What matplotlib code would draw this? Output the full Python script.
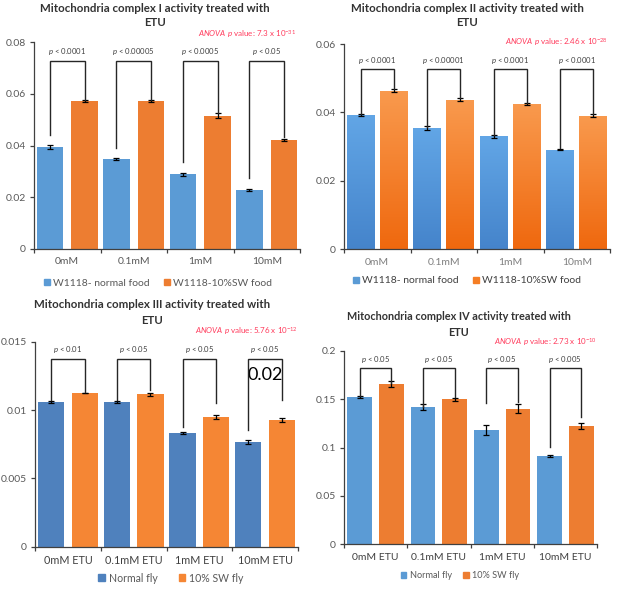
import matplotlib
matplotlib.use("Agg")
import matplotlib.pyplot as plt
import numpy as np
from matplotlib.colors import LinearSegmentedColormap
from matplotlib.patches import Patch

plt.rcParams['font.family'] = ['Lato', 'DejaVu Sans']
plt.rcParams['mathtext.fontset'] = 'custom'
plt.rcParams['mathtext.rm'] = 'Lato'
plt.rcParams['mathtext.it'] = 'Lato:italic'
plt.rcParams['mathtext.bf'] = 'Lato:bold'

# ---------------- data ----------------
cats_a = ["0mM", "0.1mM", "1mM", "10mM"]
cats_b = ["0mM ETU", "0.1mM ETU", "1mM ETU", "10mM ETU"]

c1_blue = [0.0395, 0.0348, 0.0289, 0.0227]
c1_blue_err = [0.0007, 0.0003, 0.0006, 0.0004]
c1_orange = [0.0573, 0.0571, 0.0515, 0.0420]
c1_orange_err = [0.0003, 0.0004, 0.0010, 0.0004]
c1_p = ["0.0001", "0.00005", "0.0005", "0.05"]
c1_anova = ("7.3", "-31")

c2_blue = [0.0392, 0.0354, 0.0330, 0.0291]
c2_blue_err = [0.0002, 0.0006, 0.0004, 0.0001]
c2_orange = [0.0464, 0.0437, 0.0424, 0.0391]
c2_orange_err = [0.0004, 0.0005, 0.0003, 0.0003]
c2_p = ["0.0001", "0.00001", "0.0001", "0.0001"]
c2_anova = ("2.46", "-28")

c3_blue = [0.01060, 0.01058, 0.00832, 0.00767]
c3_blue_err = [0.00005, 0.00008, 0.00008, 0.00015]
c3_orange = [0.01124, 0.01114, 0.00946, 0.00925]
c3_orange_err = [0.00003, 0.00010, 0.00015, 0.00015]
c3_p = ["0.01", "0.05", "0.05", "0.05"]
c3_anova = ("5.76", "-12")

c4_blue = [0.1525, 0.1418, 0.1183, 0.0910]
c4_blue_err = [0.0010, 0.0030, 0.0050, 0.0010]
c4_orange = [0.1660, 0.1502, 0.1404, 0.1225]
c4_orange_err = [0.0030, 0.0015, 0.0050, 0.0030]
c4_p = ["0.05", "0.05", "0.05", "0.005"]
c4_anova = ("2.73", "-10")

# bracket geometry (data units): top, left-leg end, right-leg end
c1_br_top = 0.0728
c1_br_left = [0.0440, 0.0390, 0.0338, 0.0275]
c1_br_right = [0.0577, 0.0576, 0.0526, 0.0434]
c2_br_top = 0.0527
c2_br_left = [0.0395, 0.0358, 0.0334, 0.0296]
c2_br_right = [0.0468, 0.0443, 0.0428, 0.0395]
c3_br_top = 0.01376
c3_br_left = [0.0107, 0.0107, 0.00878, 0.00854]
c3_br_right = [0.01130, 0.01147, 0.0105, 0.01074]
c4_br_top = 0.182
c4_br_left = [0.1535, 0.1425, 0.146, 0.101]
c4_br_right = [0.167, 0.152, 0.147, 0.132]

W, H = 621, 590
fig = plt.figure(figsize=(W / 100, H / 100), dpi=100)
fig.patch.set_facecolor('white')


def fx(px):
    return px / W


def fy(py):
    return 1 - py / H


def gradient_bars(ax, x, h, width, c_top, c_bot, z=2):
    cmap = LinearSegmentedColormap.from_list('g', [c_bot, c_top])
    grad = np.linspace(0, 1, 256).reshape(-1, 1)
    bars = ax.bar(x, h, width, color='none', edgecolor='none', zorder=z)
    for b in bars:
        x0 = b.get_x()
        im = ax.imshow(grad, extent=[x0, x0 + b.get_width(), 0, b.get_height()],
                       origin='lower', cmap=cmap, aspect='auto', zorder=z,
                       interpolation='bicubic')
        im.set_clip_path(b)
    return bars


def panel(rect, cats, blue, berr, orange, oerr, ylim, yticks, ytl,
          br_top, br_left, br_right, pvals, ptxt_y, anova, anova_xy,
          cblue, corange, width, off, label_color, gradient=None, xlab_size=7.5):
    ax = fig.add_axes(rect)
    x = np.arange(len(cats))
    if gradient is None:
        ax.bar(x - off, blue, width, color=cblue, zorder=2)
        ax.bar(x + off, orange, width, color=corange, zorder=2)
    else:
        gradient_bars(ax, x - off, blue, width, gradient[0], gradient[1])
        gradient_bars(ax, x + off, orange, width, gradient[2], gradient[3])
    ax.errorbar(x - off, blue, yerr=berr, fmt='none', ecolor='black',
                elinewidth=0.9, capsize=2.0, capthick=0.9, zorder=3)
    ax.errorbar(x + off, orange, yerr=oerr, fmt='none', ecolor='black',
                elinewidth=0.9, capsize=2.0, capthick=0.9, zorder=3)
    for i in range(len(cats)):
        ax.plot([x[i] - off, x[i] - off, x[i] + off, x[i] + off],
                [br_left[i], br_top, br_top, br_right[i]],
                color='#262626', lw=1.0, zorder=4, solid_joinstyle='miter')
        ax.text(x[i], ptxt_y, r"$\it{p}$ < " + pvals[i], ha='center',
                va='center', fontsize=5.6, color='#404040', zorder=5)
    ax.set_xlim(-0.5, len(cats) - 0.5)
    ax.set_ylim(*ylim)
    ax.set_yticks(yticks)
    ax.set_yticklabels(ytl)
    ax.set_xticks(x)
    ax.set_xticklabels(cats)
    ax.set_xticks(np.arange(len(cats) + 1) - 0.5, minor=True)
    ax.tick_params(axis='x', which='major', length=0, pad=6,
                   labelsize=xlab_size, labelcolor=label_color)
    ax.tick_params(axis='x', which='minor', length=3, width=0.9,
                   color='#404040', direction='out')
    ax.tick_params(axis='y', length=3, width=0.9, color='#404040',
                   labelsize=7.5, labelcolor='#595959', pad=3)
    for s in ['top', 'right']:
        ax.spines[s].set_visible(False)
    for s in ['left', 'bottom']:
        ax.spines[s].set_color('#404040')
        ax.spines[s].set_linewidth(0.9)
    fig.text(fx(anova_xy[0]), fy(anova_xy[1]),
             r"$\it{ANOVA\ p}$ value: " + anova[0] + " x 10$^{" + anova[1] + "}$",
             ha='right', va='center', fontsize=5.8, color='#FF3B5C')
    return ax


# ---- Panel 1
ax1 = panel([fx(34), fy(249), fx(300) - fx(34), fy(42) - fy(249)], cats_a,
            c1_blue, c1_blue_err, c1_orange, c1_orange_err,
            (0, 0.08), [0, 0.02, 0.04, 0.06, 0.08], ["0", "0.02", "0.04", "0.06", "0.08"],
            c1_br_top, c1_br_left, c1_br_right, c1_p, 0.0763, c1_anova, (296, 34),
            '#5B9BD5', '#ED7D31', 0.40, 0.26, '#595959')
fig.text(fx(155), fy(8), "Mitochondria complex I activity treated with",
         ha='center', va='center', fontsize=8.3, fontweight='bold', color='#333333')
fig.text(fx(155), fy(22), "ETU", ha='center', va='center', fontsize=8.3,
         fontweight='bold', color='#333333')
fig.legend(handles=[Patch(color='#5B9BD5', label='W1118- normal food'),
                    Patch(color='#ED7D31', label='W1118-10%SW food')],
           loc='center', bbox_to_anchor=(fx(158), fy(283)), ncol=2, frameon=False,
           fontsize=7.5, handlelength=0.6, handleheight=0.6, handletextpad=0.3,
           columnspacing=1.3, labelcolor='#595959')

# ---- Panel 2
ax2 = panel([fx(344), fy(249.3), fx(610) - fx(344), fy(44) - fy(249.3)], cats_a,
            c2_blue, c2_blue_err, c2_orange, c2_orange_err,
            (0, 0.06), [0, 0.02, 0.04, 0.06], ["0", "0.02", "0.04", "0.06"],
            c2_br_top, c2_br_left, c2_br_right, c2_p, 0.0553, c2_anova, (608, 42),
            '#5B9BD5', '#F57E24', 0.42, 0.25, '#7F7F7F',
            gradient=('#62A6E6', '#4584CB', '#F99A4E', '#EF680E'))
fig.text(fx(467), fy(9), "Mitochondria complex II activity treated with",
         ha='center', va='center', fontsize=8.3, fontweight='bold', color='#333333')
fig.text(fx(467), fy(23), "ETU", ha='center', va='center', fontsize=8.3,
         fontweight='bold', color='#333333')
fig.legend(handles=[Patch(color='#5B9BD5', label='W1118- normal food'),
                    Patch(color='#F57E24', label='W1118-10%SW food')],
           loc='center', bbox_to_anchor=(fx(467), fy(281)), ncol=2, frameon=False,
           fontsize=7.5, handlelength=0.6, handleheight=0.6, handletextpad=0.3,
           columnspacing=1.3, labelcolor='#404040')

# ---- Panel 3
ax3 = panel([fx(35), fy(546.7), fx(298) - fx(35), fy(341.7) - fy(546.7)], cats_b,
            c3_blue, c3_blue_err, c3_orange, c3_orange_err,
            (0, 0.015), [0, 0.005, 0.01, 0.015], ["0", "0.005", "0.01", "0.015"],
            c3_br_top, c3_br_left, c3_br_right, c3_p, 0.01445, c3_anova, (298, 331),
            '#4F81BD', '#F58634', 0.40, 0.256, '#404040', xlab_size=7.8)
ax3.text(3, 0.01257, "0.02", ha='center', va='center', fontsize=13, color='black')
fig.text(fx(152), fy(305), "Mitochondria complex III activity treated with",
         ha='center', va='center', fontsize=8.3, fontweight='bold', color='#333333')
fig.text(fx(152), fy(320), "ETU", ha='center', va='center', fontsize=8.3,
         fontweight='bold', color='#333333')
fig.legend(handles=[Patch(color='#4F81BD', label='Normal fly'),
                    Patch(color='#F58634', label='10% SW fly')],
           loc='center', bbox_to_anchor=(fx(171), fy(578)), ncol=2, frameon=False,
           fontsize=7.6, handlelength=0.6, handleheight=0.6, handletextpad=0.4,
           columnspacing=2.0, labelcolor='#595959')

# ---- Panel 4
ax4 = panel([fx(344), fy(544.3), fx(597) - fx(344), fy(351) - fy(544.3)], cats_b,
            c4_blue, c4_blue_err, c4_orange, c4_orange_err,
            (0, 0.2), [0, 0.05, 0.1, 0.15, 0.2], ["0", "0.05", "0.1", "0.15", "0.2"],
            c4_br_top, c4_br_left, c4_br_right, c4_p, 0.1908, c4_anova, (597, 342),
            '#5B9BD5', '#ED7D31', 0.39, 0.25, '#404040')
fig.text(fx(459), fy(317), "Mitochondria complex IV activity treated with",
         ha='center', va='center', fontsize=7.8, fontweight='bold', color='#333333')
fig.text(fx(459), fy(332), "ETU", ha='center', va='center', fontsize=7.8,
         fontweight='bold', color='#333333')
fig.legend(handles=[Patch(color='#5B9BD5', label='Normal fly'),
                    Patch(color='#ED7D31', label='10% SW fly')],
           loc='center', bbox_to_anchor=(fx(460), fy(576)), ncol=2, frameon=False,
           fontsize=6.6, handlelength=0.6, handleheight=0.6, handletextpad=0.4,
           columnspacing=1.2, labelcolor='#595959')

fig.savefig('out.png', dpi=100, facecolor='white')
